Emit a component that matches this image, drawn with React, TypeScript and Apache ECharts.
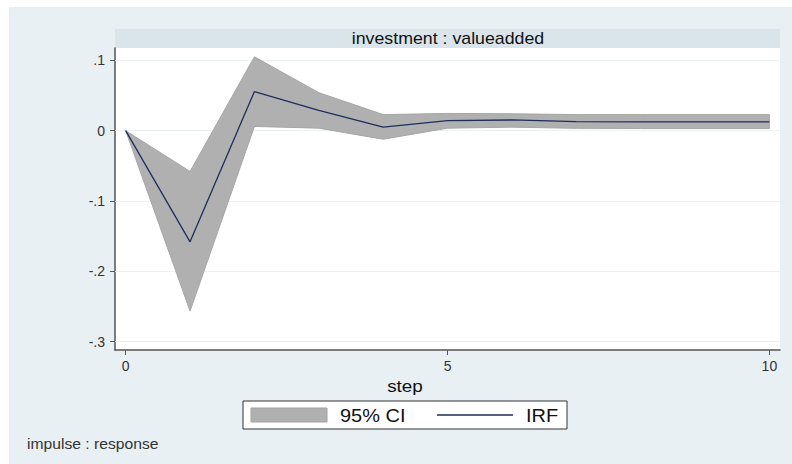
import React, { useEffect, useRef } from "react";
import * as echarts from "echarts";

const steps = [0, 1, 2, 3, 4, 5, 6, 7, 8, 9, 10];
const irf = [0, -0.158, 0.0555, 0.029, 0.005, 0.0142, 0.0152, 0.0128, 0.0126, 0.0125, 0.0125];
const ciUpper = [0, -0.058, 0.105, 0.054, 0.0228, 0.0245, 0.024, 0.0228, 0.0228, 0.0228, 0.0228];
const ciLower = [0, -0.2565, 0.006, 0.0035, -0.0122, 0.0035, 0.005, 0.0033, 0.003, 0.003, 0.003];
const yTicks = [0.1, 0, -0.1, -0.2, -0.3];
const yTickLabels: Record<string, string> = { "0.1": ".1", "0": "0", "-0.1": "-.1", "-0.2": "-.2", "-0.3": "-.3" };
const xTicks = [0, 5, 10];

const FONT = "'Liberation Sans', Arial, sans-serif";
const SX = 1.11;

export default function App() {
  const ref = useRef<HTMLDivElement>(null);
  useEffect(() => {
    if (!ref.current) return;
    const chart = echarts.init(ref.current, undefined, { renderer: "svg" });
    const bandData = steps.map((s, i) => [s, ciLower[i], ciUpper[i]]);
    const line = steps.map((s, i) => [s, irf[i]]);
    chart.setOption({
      animation: false,
      backgroundColor: "#ffffff",
      textStyle: { fontFamily: FONT },
      graphic: [
        { type: "rect", z: -10, shape: { x: 9, y: 7, width: 783, height: 457 }, style: { fill: "#e9f0f3" }, silent: true },
        { type: "rect", z: -9, shape: { x: 115, y: 29, width: 665, height: 19 }, style: { fill: "#d9e5eb" }, silent: true },
        {
          type: "text", x: 448, y: 38.5, z: 5, scaleX: SX,
          style: { text: "investment : valueadded", fill: "#111111", font: `16px ${FONT}`, align: "center", verticalAlign: "middle" },
        },
        {
          type: "text", x: 405, y: 386, z: 5, scaleX: SX,
          style: { text: "step", fill: "#111111", font: `17px ${FONT}`, align: "center", verticalAlign: "middle" },
        },
        {
          type: "text", x: 27, y: 444, z: 5, scaleX: 1.12,
          style: { text: "impulse : response", fill: "#333333", font: `14px ${FONT}`, verticalAlign: "middle" },
        },
        { type: "rect", z: 5, shape: { x: 243, y: 401, width: 324, height: 28 }, style: { fill: "#ffffff", stroke: "#333333", lineWidth: 1 } },
        { type: "rect", z: 6, shape: { x: 251, y: 408, width: 76, height: 14 }, style: { fill: "#b0b0b0", stroke: "#a3a3a3", lineWidth: 1 } },
        { type: "text", z: 6, x: 340, y: 415.5, scaleX: SX, style: { text: "95% CI", fill: "#111111", font: `18px ${FONT}`, verticalAlign: "middle" } },
        { type: "line", z: 6, shape: { x1: 437, y1: 415, x2: 513, y2: 415 }, style: { stroke: "#1f2d5c", lineWidth: 1.3 } },
        { type: "text", z: 6, x: 526, y: 415.5, scaleX: SX, style: { text: "IRF", fill: "#111111", font: `18px ${FONT}`, verticalAlign: "middle" } },
      ],
      grid: {
        left: 115, top: 48, right: 12, bottom: 114,
        show: true, backgroundColor: "#ffffff", borderWidth: 0,
      },
      xAxis: {
        type: "value",
        min: -0.166,
        max: 10.165,
        interval: 5,
        axisLine: { show: true, onZero: false, lineStyle: { color: "#555555", width: 1.5 } },
        axisTick: { show: true, length: 5, lineStyle: { color: "#555555" }, customValues: xTicks },
        axisLabel: {
          customValues: xTicks, color: "#333333", fontSize: 14, fontFamily: FONT, margin: 9,
          showMinLabel: true, showMaxLabel: true,
        },
        splitLine: { show: false },
      },
      yAxis: {
        type: "value",
        min: -0.3118,
        max: 0.1175,
        axisLine: { show: true, onZero: false, lineStyle: { color: "#555555", width: 1.5 } },
        axisTick: { show: true, length: 5, lineStyle: { color: "#555555" }, customValues: yTicks },
        axisLabel: {
          customValues: yTicks, color: "#333333", fontSize: 14, fontFamily: FONT, margin: 10,
          formatter: (v: number) => yTickLabels[String(Math.round(v * 10) / 10)] ?? String(v),
        },
        splitLine: { show: false },
      },
      series: [
        {
          type: "custom",
          data: bandData,
          encode: { x: 0, y: [1, 2] },
          silent: true,
          z: 2,
          renderItem: (params: any, api: any) => {
            if (params.dataIndex !== 0) return null;
            const up = bandData.map((d) => api.coord([d[0], d[2]]));
            const lo = bandData.map((d) => api.coord([d[0], d[1]])).reverse();
            return {
              type: "polygon",
              shape: { points: up.concat(lo) },
              style: { fill: "#b0b0b0", stroke: "#a6a6a6", lineWidth: 1 },
            };
          },
        },
        {
          type: "line", data: line, symbol: "none",
          lineStyle: { color: "#1f2d5c", width: 1.3 }, z: 4,
          markLine: {
            silent: true, symbol: "none", label: { show: false }, z: 1,
            lineStyle: { color: "#eaf2f4", width: 1, type: "solid" },
            data: yTicks.map((v) => ({ yAxis: v })),
          },
        },
      ],
    });
    return () => chart.dispose();
  }, []);
  return <div ref={ref} style={{ position: "fixed", left: 0, top: 0, width: 792, height: 464 }} />;
}
